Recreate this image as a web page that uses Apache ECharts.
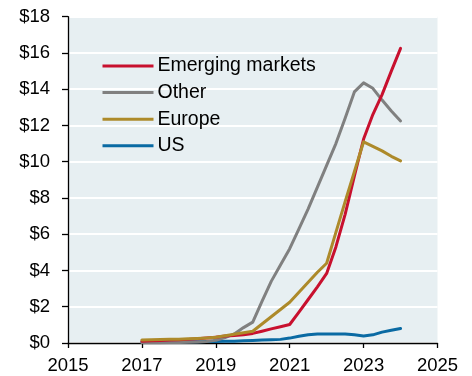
<!DOCTYPE html>
<html><head><meta charset="utf-8">
<script src="https://cdn.jsdelivr.net/npm/echarts@6/dist/echarts.min.js"></script>
<style>html,body{margin:0;padding:0;background:#fff}#c{width:472px;height:376px}</style>
</head><body><div id="c"></div>
<script>
const years = [2017,2017.25,2017.5,2017.75,2018,2018.25,2018.5,2018.75,2019,2019.25,2019.5,2019.75,2020,2020.25,2020.5,2020.75,2021,2021.25,2021.5,2021.75,2022,2022.25,2022.5,2022.75,2023,2023.25,2023.5,2023.75,2024];
const emerging = [0.1,0.12,0.14,0.16,0.18,0.2,0.23,0.27,0.32,0.38,0.42,0.46,0.53,0.65,0.78,0.9,1.02,1.7,2.4,3.1,3.84,5.3,7.1,9.2,11.25,12.6,13.7,15.0,16.25];
const other = [0.02,0.02,0.02,0.03,0.03,0.04,0.05,0.08,0.15,0.3,0.5,0.85,1.15,2.3,3.4,4.3,5.2,6.3,7.4,8.6,9.8,11.0,12.4,13.85,14.35,14.05,13.4,12.8,12.25];
const europe = [0.17,0.18,0.19,0.2,0.21,0.23,0.25,0.28,0.32,0.4,0.48,0.56,0.65,1.05,1.45,1.85,2.25,2.8,3.35,3.9,4.4,6.1,7.8,9.45,11.1,10.85,10.6,10.3,10.05];
const us = [0.05,0.05,0.05,0.06,0.06,0.07,0.07,0.08,0.08,0.09,0.1,0.12,0.14,0.16,0.18,0.2,0.27,0.37,0.45,0.5,0.5,0.5,0.5,0.45,0.39,0.45,0.6,0.7,0.8];
const seriesNames = ['Emerging markets','Other','Europe','US'];
const seriesColors = ['#c8102e','#808080','#ad8a2a','#0a6aa3'];

const pair = arr => years.map((y,i)=>[y,arr[i]]);
const font = "'Liberation Sans', Arial, sans-serif";
const chart = echarts.init(document.getElementById('c'), null, {renderer:'canvas'});
const mk = (name, data, color, z) => ({
  name, type:'line', data: pair(data), color, symbol:'none', showSymbol:false,
  lineStyle:{width:3, color, cap:'round', join:'round'}, z
});
chart.setOption({
  animation:false,
  textStyle:{fontFamily:font},
  grid:{left:68, right:34.5, top:16.7, bottom:33, show:true, backgroundColor:'#e7eff2', borderWidth:0},
  legend:{
    data: seriesNames, orient:'vertical', left:102.5, top:56, padding:0,
    itemWidth:51, itemHeight:3, icon:'rect', itemGap:6.6,
    textStyle:{fontSize:19.5, lineHeight:20, color:'#000', fontFamily:font, padding:[0,0,0,-1]}
  },
  xAxis:{
    type:'value', min:2015, max:2025, interval:2,
    axisLine:{lineStyle:{color:'#000', width:1.3}},
    axisTick:{show:true, length:5, lineStyle:{color:'#000', width:1.3}},
    axisLabel:{fontSize:18.5, color:'#000', margin:13, fontFamily:font, formatter:v=>String(v)},
    splitLine:{show:false}
  },
  yAxis:{
    type:'value', min:0, max:18, interval:2,
    axisLine:{show:true, lineStyle:{color:'#000', width:1.3}},
    axisTick:{show:true, length:6, lineStyle:{color:'#000', width:1.3}},
    axisLabel:{fontSize:18.5, color:'#000', margin:18, fontFamily:font, formatter:v=>'$'+v},
    splitLine:{show:true, lineStyle:{color:'#ffffff', width:2}}
  },
  series:[
    mk(seriesNames[0], emerging, seriesColors[0], 3),
    mk(seriesNames[1], other, seriesColors[1], 2),
    mk(seriesNames[2], europe, seriesColors[2], 4),
    mk(seriesNames[3], us, seriesColors[3], 1)
  ]
});
</script></body></html>
